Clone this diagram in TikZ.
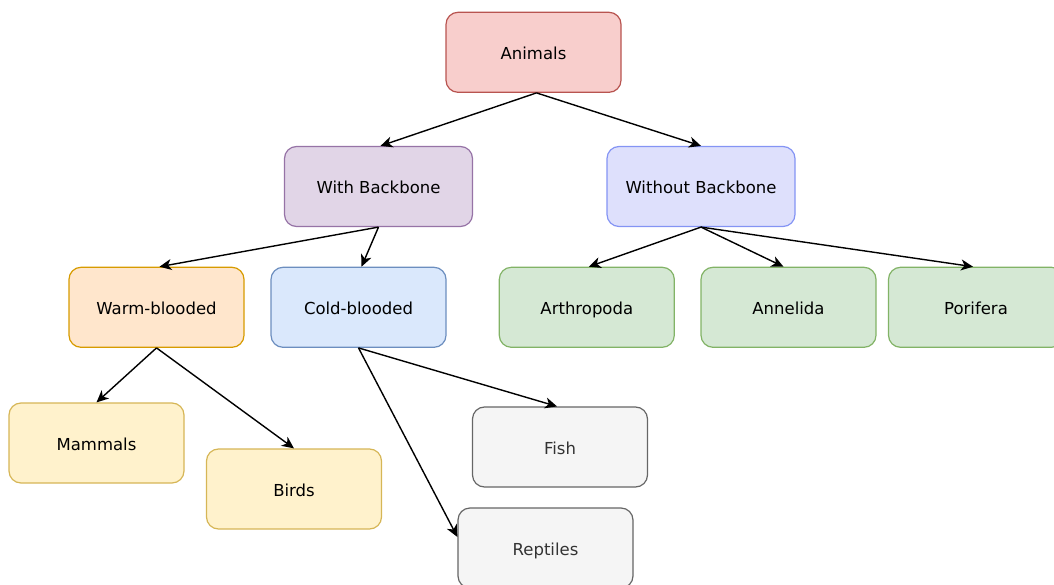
\documentclass[tikz,border=0pt]{standalone}
\usepackage{fontspec}
\setmainfont{DejaVu Sans}
\usetikzlibrary{arrows.meta}
\definecolor{redF}{HTML}{F8CECC}\definecolor{redD}{HTML}{B85450}
\definecolor{purF}{HTML}{E1D5E7}\definecolor{purD}{HTML}{9673A6}
\definecolor{bluF}{HTML}{DEE0FC}\definecolor{bluD}{HTML}{8494F4}
\definecolor{cbF}{HTML}{DAE8FC}\definecolor{cbD}{HTML}{6C8EBF}
\definecolor{orF}{HTML}{FFE6CC}\definecolor{orD}{HTML}{D79B00}
\definecolor{grF}{HTML}{D5E8D4}\definecolor{grD}{HTML}{82B366}
\definecolor{yeF}{HTML}{FFF2CC}\definecolor{yeD}{HTML}{D6B656}
\definecolor{gyF}{HTML}{F5F5F5}\definecolor{gyD}{HTML}{666666}\definecolor{gyT}{HTML}{333333}
\tikzset{
  box/.style={draw, line width=1.2pt, rounded corners=12pt, minimum width=175pt, minimum height=80pt,
    inner sep=0pt, text height=18pt, text depth=3.5pt, font=\fontsize{16.5}{19}\selectfont, text=black},
  conn/.style={draw, line width=1.4pt, -{Stealth[length=12pt, width=11pt, inset=3.5pt]}},
}
\begin{document}
\begin{tikzpicture}[x=1pt, y=-1pt]
\useasboundingbox (0,0) rectangle (1054,585);
\begin{scope}
\clip (0,0) rectangle (1054,585);
\node[box, fill=redF, draw=redD] (animals) at (533.5,52.3) {Animals};
\node[box, fill=purF, draw=purD, minimum width=188pt] (wb) at (378.5,186.5) {With Backbone};
\node[box, fill=bluF, draw=bluD, minimum width=188pt] (wob) at (701,186.5) {Without Backbone};
\node[box, fill=orF, draw=orD] (warm) at (156.5,307.3) {Warm-blooded};
\node[box, fill=cbF, draw=cbD] (cold) at (358.5,307.3) {Cold-blooded};
\node[box, fill=grF, draw=grD] (arth) at (586.8,307.3) {Arthropoda};
\node[box, fill=grF, draw=grD] (anne) at (788.5,307.3) {Annelida};
\node[box, fill=grF, draw=grD] (pori) at (976,307.3) {Porifera};
\node[box, fill=yeF, draw=yeD] (mam) at (96.5,443) {Mammals};
\node[box, fill=yeF, draw=yeD] (birds) at (294,489) {Birds};
\node[box, fill=gyF, draw=gyD, text=gyT] (fish) at (560,447) {Fish};
\node[box, fill=gyF, draw=gyD, text=gyT] (rep) at (545.5,548) {Reptiles};
\end{scope}
\draw[conn] ([xshift=3pt]animals.south) -- ([xshift=2pt]wb.north);
\draw[conn] ([xshift=3pt]animals.south) -- (wob.north);
\draw[conn] (wb.south) -- ([xshift=3pt]warm.north);
\draw[conn] (wb.south) -- ([xshift=3pt]cold.north);
\draw[conn] (wob.south) -- ([xshift=2pt]arth.north);
\draw[conn] (wob.south) -- ([xshift=-5pt]anne.north);
\draw[conn] (wob.south) -- ([xshift=-3pt]pori.north);
\draw[conn] (warm.south) -- (mam.north);
\draw[conn] (warm.south) -- (birds.north);
\draw[conn] (cold.south) -- ([xshift=-3pt]fish.north);
\draw[conn] (cold.south) -- ([yshift=11pt]rep.west);
\end{tikzpicture}
\end{document}
